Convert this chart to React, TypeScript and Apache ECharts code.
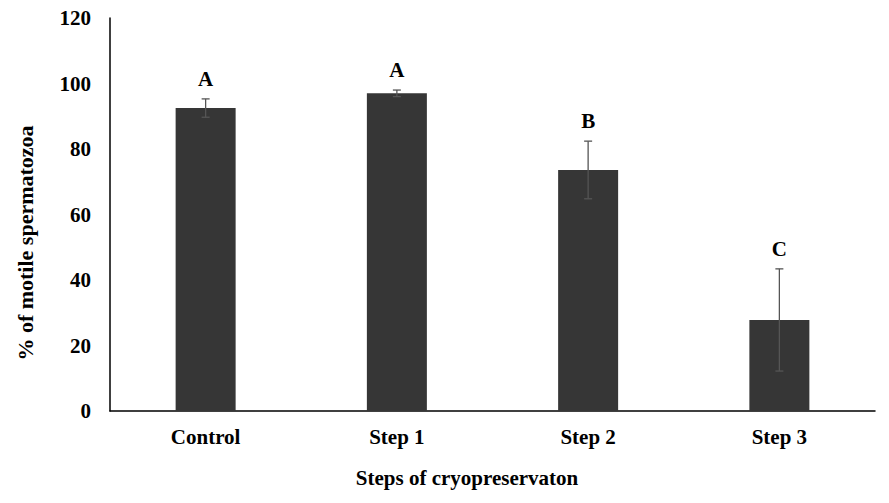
import React, { useEffect, useRef } from "react";
import * as echarts from "echarts";

const categories = ["Control", "Step 1", "Step 2", "Step 3"];
const meanValues = [92.5, 97.0, 73.6, 27.8];
const errorValues = [2.8, 1.0, 8.8, 15.6];
const groupLetters = ["A", "A", "B", "C"];
const yTicks = [0, 20, 40, 60, 80, 100, 120];
const xAxisTitle = "Steps of cryopreservaton";
const yAxisTitle = "% of motile spermatozoa";

const FONT = "'Liberation Serif', 'Times New Roman', serif";

export default function App() {
  const ref = useRef<HTMLDivElement>(null);
  useEffect(() => {
    if (!ref.current) return;
    const chart = echarts.init(ref.current, null, { renderer: "svg" });
    const errData = categories.map((c, i) => [i, meanValues[i] - errorValues[i], meanValues[i] + errorValues[i], groupLetters[i]]);
    chart.setOption({
      animation: false,
      grid: { left: 110, right: 14, top: 18, bottom: 92, containLabel: false },
      graphic: [
        {
          type: "text",
          x: 467,
          y: 478,
          style: { text: xAxisTitle, fill: "#000", font: `bold 21px ${FONT}`, align: "center", verticalAlign: "middle" },
        },
        {
          type: "text",
          x: 25,
          y: 243,
          rotation: Math.PI / 2,
          style: { text: yAxisTitle, fill: "#000", font: `bold 22px ${FONT}`, align: "center", verticalAlign: "middle" },
        },
      ],
      xAxis: {
        type: "category",
        data: categories,
        axisLine: { lineStyle: { color: "#000", width: 1.5 } },
        axisTick: { show: false },
        axisLabel: { color: "#000", fontFamily: FONT, fontWeight: "bold", fontSize: 21, margin: 15 },
      },
      yAxis: {
        type: "value",
        min: yTicks[0],
        max: yTicks[yTicks.length - 1],
        interval: 20,
        axisLine: { show: true, lineStyle: { color: "#000", width: 1.5 } },
        axisTick: { show: false },
        splitLine: { show: false },
        axisLabel: { color: "#000", fontFamily: FONT, fontWeight: "bold", fontSize: 21, margin: 19 },
      },
      series: [
        {
          type: "bar",
          data: meanValues,
          barWidth: 60,
          itemStyle: { color: "#363636" },
        },
        {
          type: "custom",
          data: errData,
          z: 10,
          renderItem: (params: any, api: any) => {
            const x = api.value(0);
            const lo = api.coord([x, api.value(1)]);
            const hi = api.coord([x, api.value(2)]);
            const half = 4;
            const style = { stroke: "#555", lineWidth: 1.3 };
            return {
              type: "group",
              children: [
                { type: "line", shape: { x1: lo[0], y1: lo[1], x2: hi[0], y2: hi[1] }, style },
                { type: "line", shape: { x1: lo[0] - half, y1: lo[1], x2: lo[0] + half, y2: lo[1] }, style },
                { type: "line", shape: { x1: hi[0] - half, y1: hi[1], x2: hi[0] + half, y2: hi[1] }, style },
                {
                  type: "text",
                  x: hi[0],
                  y: hi[1] - 20,
                  style: {
                    text: api.value(3),
                    fill: "#000",
                    font: `bold 21px ${FONT}`,
                    align: "center",
                    verticalAlign: "middle",
                  },
                },
              ],
            };
          },
        },
      ],
    });
    return () => chart.dispose();
  }, []);
  return <div ref={ref} style={{ width: 889, height: 503, position: "absolute", left: 0, top: 0 }} />;
}
